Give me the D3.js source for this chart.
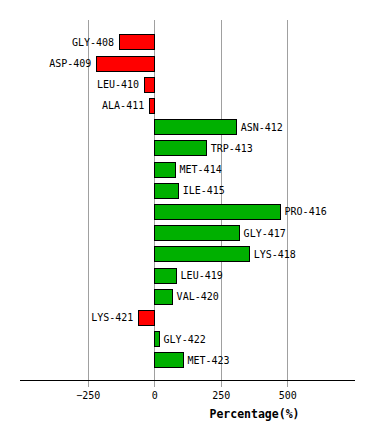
<!DOCTYPE html>
<html>
<head>
<meta charset="utf-8">
<script src="https://cdn.jsdelivr.net/npm/d3@7"></script>
<style>
body{margin:0;background:#fff;}
text{font-family:'DejaVu Sans Mono',monospace;}
</style>
</head>
<body>
<svg class="chart" width="374" height="440"></svg>
<script>
var residues = ['GLY-408','ASP-409','LEU-410','ALA-411','ASN-412','TRP-413','MET-414','ILE-415',
	'PRO-416','GLY-417','LYS-418','LEU-419','VAL-420','LYS-421','GLY-422','MET-423'];
var percent = [-132,-218,-38,-19,310,197,80,92,475,321,359,84,69,-60,20,110];
var tickValues = [-250,0,250,500];

var chart = d3.select('.chart');

//Scales
var xScale = d3.scaleLinear()
			.domain([-505,755])
			.range([20,355]);

var yScale = d3.scalePoint()
			.domain(residues)
			.range([41.8,359.8]);

var barH = 15;

//Grid
chart.append('g')
	.selectAll('line')
	.data(tickValues)
	.enter()
	.append('line')
	.attr('x1',d=>Math.round(xScale(d))+0.5)
	.attr('x2',d=>Math.round(xScale(d))+0.5)
	.attr('y1',20)
	.attr('y2',387)
	.attr('stroke','#a0a0a0')
	.attr('stroke-width',1);

//Bars
var rows = chart.selectAll('.row')
			.data(residues)
			.enter()
			.append('g')
			.attr('class','row');

rows.append('rect')
	.attr('x',(d,i)=>Math.round(Math.min(xScale(0),xScale(percent[i])))+0.5)
	.attr('y',d=>Math.round(yScale(d)-barH/2)+0.5)
	.attr('width',(d,i)=>Math.round(Math.abs(xScale(percent[i])-xScale(0))))
	.attr('height',barH)
	.attr('fill',(d,i)=>percent[i]<0?'#ff0000':'#00b000')
	.attr('stroke','#000')
	.attr('stroke-width',1);

rows.append('text')
	.text(d=>d)
	.attr('x',(d,i)=>percent[i]<0?xScale(percent[i])-5:xScale(percent[i])+4)
	.attr('y',d=>yScale(d)+4)
	.attr('text-anchor',(d,i)=>percent[i]<0?'end':'start')
	.attr('font-size',10)
	.attr('fill','#000');

//Axis
var xAxisGen = d3.axisBottom(xScale)
			.tickValues(tickValues)
			.tickSize(0)
			.tickPadding(11);

var axis = chart.append('g')
	.attr('transform','translate(0,380.5)')
	.call(xAxisGen);
axis.select('.domain').attr('stroke','#000').attr('d','M20,0H355');
axis.selectAll('text').attr('font-size',10).attr('font-family','DejaVu Sans Mono').attr('fill','#000');

chart.append('text')
	.attr('text-anchor','middle')
	.attr('x',254.5)
	.attr('y',418)
	.attr('font-size',11.5)
	.attr('font-weight','bold')
	.text('Percentage(%)');
</script>
</body>
</html>
